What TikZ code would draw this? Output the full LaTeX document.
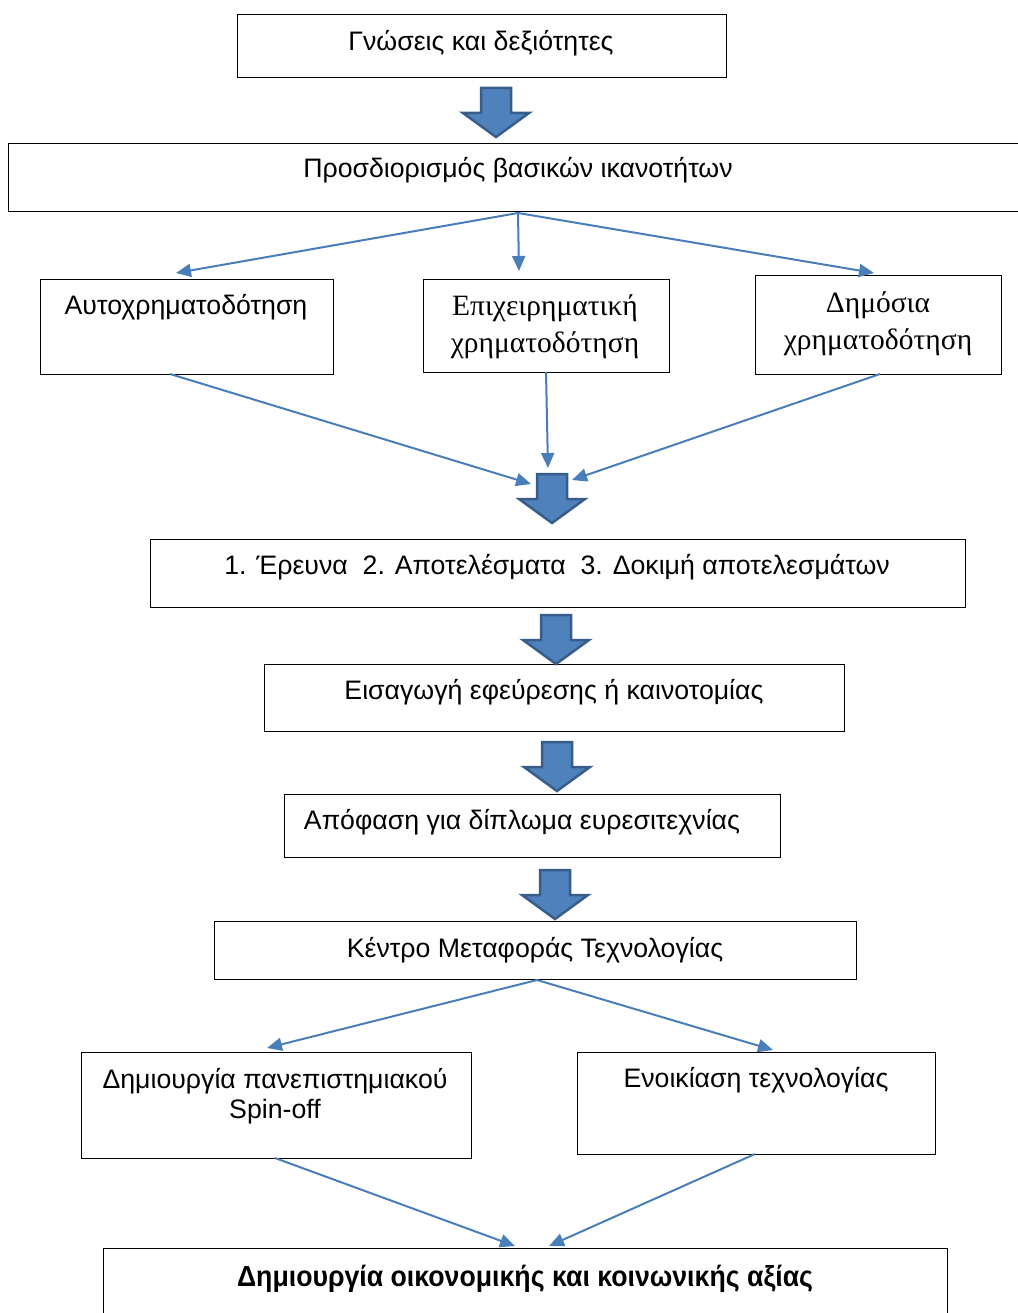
\documentclass[tikz,border=0pt]{standalone}
\usepackage{fontspec}
\setmainfont{Liberation Sans}
\newfontfamily\serifgr{Liberation Serif}
\newfontfamily\narrowbold[FakeStretch=0.92]{Liberation Sans Bold}
\usetikzlibrary{arrows.meta}
\definecolor{conn}{HTML}{4A7EBB}
\definecolor{barfill}{HTML}{4F81BD}
\definecolor{bardraw}{HTML}{385D8A}
\tikzset{
  box/.style={draw=black,line width=1pt,fill=none},
  txt/.style={font=\fontsize{26.7}{30}\selectfont,anchor=base,inner sep=0pt,align=center},
  stxt/.style={font=\fontsize{29.5}{37}\serifgr\selectfont,anchor=center,inner sep=0pt,align=center},
  conn/.style={draw=conn,line width=2pt,-{Triangle[length=15pt,width=13pt]}},
  blockarrow/.style={fill=barfill,draw=bardraw,line width=2.5pt,line join=miter}
}
\newcommand{\blockarr}[2]{%
  \draw[blockarrow] (#1-15,#2) -- (#1+15,#2) -- (#1+15,#2+25) -- (#1+33,#2+25) -- (#1,#2+49) -- (#1-33,#2+25) -- (#1-15,#2+25) -- cycle;}
\begin{document}
\begin{tikzpicture}[x=1pt,y=-1pt]
\useasboundingbox (0,0) rectangle (1017,1313);
% boxes
\draw[box] (237,15) rectangle (726,78);
\draw[box] (8,144) rectangle (1030,212);
\draw[box] (40,280) rectangle (333,374);
\draw[box] (423,280) rectangle (669,372);
\draw[box] (755,276) rectangle (1001,374);
\draw[box] (150,539) rectangle (965,607);
\draw[box] (264,664) rectangle (844,731);
\draw[box] (284,794) rectangle (780,857);
\draw[box] (214,921) rectangle (856,979);
\draw[box] (81,1052) rectangle (471,1158);
\draw[box] (577,1052) rectangle (935,1154);
\draw[box] (103,1248) rectangle (947,1330);
% texts
\node[txt] (t1) at (481,51) {Γνώσεις και δεξιότητες};
\node[txt] (t2) at (518,178) {Προσδιορισμός βασικών ικανοτήτων};
\node[txt] (t3) at (186,314) {Αυτοχρηματοδότηση};
\node[stxt] (t4) at (545,327) {Επιχειρηματική\\χρηματοδότηση};
\node[stxt] (t5) at (878,324) {Δημόσια\\χρηματοδότηση};
\node[txt] (t6) at (557,574) {1. Έρευνα\ \ 2. Αποτελέσματα\ \ 3. Δοκιμή αποτελεσμάτων};
\node[txt] (t7) at (554,699) {Εισαγωγή εφεύρεσης ή καινοτομίας};
\node[txt] (t8) at (522,829) {Απόφαση για δίπλωμα ευρεσιτεχνίας};
\node[txt] (t9) at (535,957) {Κέντρο Μεταφοράς Τεχνολογίας};
\node[txt] (t10) at (275,1118) {Δημιουργία πανεπιστημιακού\\Spin-off};
\node[txt] (t11) at (756,1087) {Ενοικίαση τεχνολογίας};
\node[font=\fontsize{29}{30}\narrowbold\selectfont,anchor=base,inner sep=0pt] (t12) at (525,1286) {Δημιουργία οικονομικής και κοινωνικής αξίας};
% block arrows
\blockarr{496}{88}
\blockarr{552}{474}
\blockarr{556}{615}
\blockarr{557}{742}
\blockarr{555}{870}
% connector coordinates
\coordinate (s2) at (518,213);
\coordinate (e3) at (176,273);
\coordinate (e4) at (519,271);
\coordinate (e5) at (874,273);
\coordinate (s3) at (170,374);
\coordinate (s4) at (546,372);
\coordinate (s5) at (880,374);
\coordinate (m1) at (531,484);
\coordinate (m2) at (548,468);
\coordinate (m3) at (572,480);
\coordinate (s9) at (537,980);
\coordinate (e10) at (267,1048);
\coordinate (e11) at (773,1050);
\coordinate (s10) at (275,1158);
\coordinate (s11) at (755,1154);
\coordinate (b1) at (515,1246);
\coordinate (b2) at (549,1246);
\draw[conn] (s2) -- (e3);
\draw[conn] (s2) -- (e4);
\draw[conn] (s2) -- (e5);
\draw[conn] (s3) -- (m1);
\draw[conn] (s4) -- (m2);
\draw[conn] (s5) -- (m3);
\draw[conn] (s9) -- (e10);
\draw[conn] (s9) -- (e11);
\draw[conn] (s10) -- (b1);
\draw[conn] (s11) -- (b2);
\end{tikzpicture}
\end{document}
